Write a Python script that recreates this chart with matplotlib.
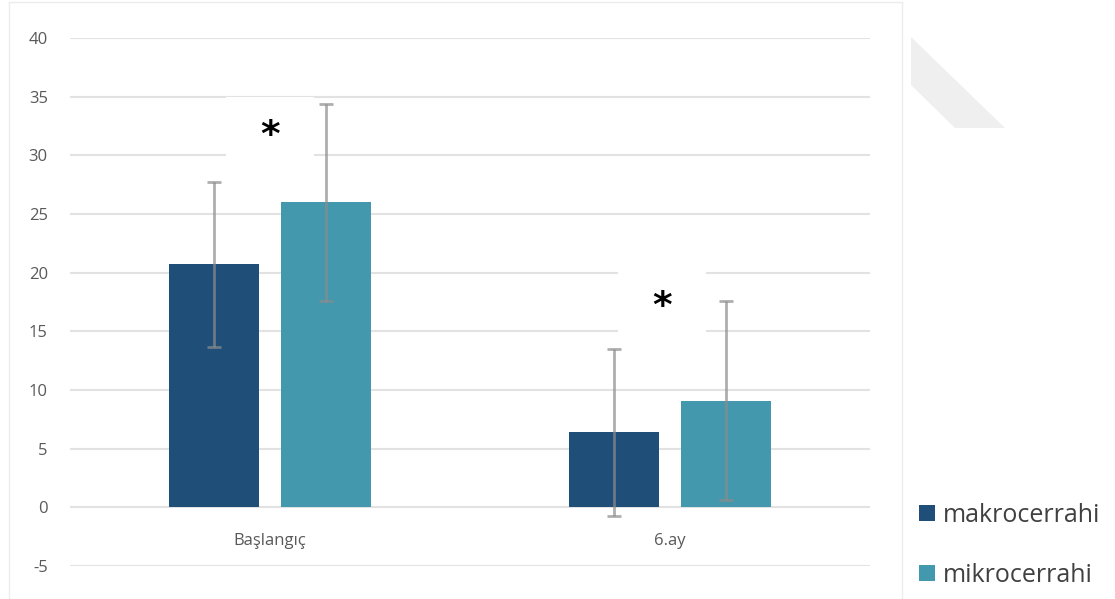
import matplotlib
matplotlib.use("Agg")
import matplotlib.pyplot as plt
from matplotlib.patches import Rectangle, Polygon
from matplotlib.lines import Line2D
import numpy as np

# Data
categories = ["Başlangıç", "6.ay"]
series_names = ["makrocerrahi", "mikrocerrahi"]
makro_mean = [20.7, 6.4]
makro_sd = [7.0, 7.1]
mikro_mean = [26.0, 9.1]
mikro_sd = [8.4, 8.5]
y_ticks = [-5, 0, 5, 10, 15, 20, 25, 30, 35, 40]
star_labels = ["*", "*"]
star_y = [32.2, 17.6]

colors = ["#1F4E79", "#4398AD"]
text_grey = "#595959"
plt.rcParams["font.family"] = ["Open Sans", "DejaVu Sans"]

fig = plt.figure(figsize=(11.15, 5.99), dpi=100)
ax = fig.add_axes([70 / 1115, 1 - 566 / 599, 800 / 1115, 528 / 599])

x = np.arange(len(categories))
width = 0.225
offset = 0.141

err_kw = dict(ecolor="#8c8c8c", elinewidth=2.0, capsize=5, capthick=2.0, alpha=0.7)
b1 = ax.bar(x - offset, makro_mean, width, color=colors[0], label=series_names[0], zorder=3)
b2 = ax.bar(x + offset, mikro_mean, width, color=colors[1], label=series_names[1], zorder=3)
for xs, m, s in [(x - offset, makro_mean, makro_sd), (x + offset, mikro_mean, mikro_sd)]:
    ax.errorbar(xs, m, yerr=s, fmt="none", zorder=4, **err_kw)

ax.set_xlim(-0.5, 1.5)
ax.set_ylim(y_ticks[0], y_ticks[-1])
ax.set_yticks(y_ticks)
ax.set_yticklabels([str(t) for t in y_ticks], fontsize=12, color=text_grey)
ax.tick_params(axis="y", length=0, pad=16)
ax.set_xticks([])
for sp in ax.spines.values():
    sp.set_visible(False)
ax.yaxis.grid(True, color="#e2e2e2", linewidth=1.5, zorder=0)
ax.set_axisbelow(True)

# category labels sit between the 0 and -5 gridlines
for i, c in enumerate(categories):
    ax.text(i, -2.9, c, ha="center", va="center", fontsize=12, color=text_grey)

# significance stars on white boxes
star_x = [0.0, 0.98]
for sx, sy, s in zip(star_x, star_y, star_labels):
    ax.add_patch(Rectangle((sx - 0.11, sy - 2.8), 0.22, 5.6, facecolor="white",
                           edgecolor="none", zorder=1))
    ax.text(sx, sy - 0.55, s, ha="center", va="center", fontsize=27, fontweight="bold",
            color="black", family="DejaVu Sans", zorder=5)

# legend
leg = fig.legend(handles=[b1, b2], labels=series_names, loc="upper left",
                 bbox_to_anchor=(919 / 1115, 1 - 503 / 599), frameon=False,
                 fontsize=18, handlelength=0.62, handleheight=0.62,
                 handletextpad=0.33, labelspacing=1.38, borderpad=0, borderaxespad=0)
for t in leg.get_texts():
    t.set_color("#404040")

# chart frame and corner decoration
fc = "#ececec"
fig.add_artist(Line2D([9 / 1115, 9 / 1115], [0, 1 - 2 / 599], transform=fig.transFigure, color=fc, lw=1))
fig.add_artist(Line2D([902 / 1115, 902 / 1115], [0, 1 - 2 / 599], transform=fig.transFigure, color=fc, lw=1))
fig.add_artist(Line2D([9 / 1115, 902 / 1115], [1 - 2 / 599, 1 - 2 / 599], transform=fig.transFigure, color=fc, lw=1))
pts = [(911, 37), (911, 85), (955, 128), (1005, 128)]
fig.add_artist(Polygon([(px / 1115, 1 - py / 599) for px, py in pts], closed=True,
                       transform=fig.transFigure, facecolor="#efefef", edgecolor="none"))

fig.savefig("out.png", dpi=100)
